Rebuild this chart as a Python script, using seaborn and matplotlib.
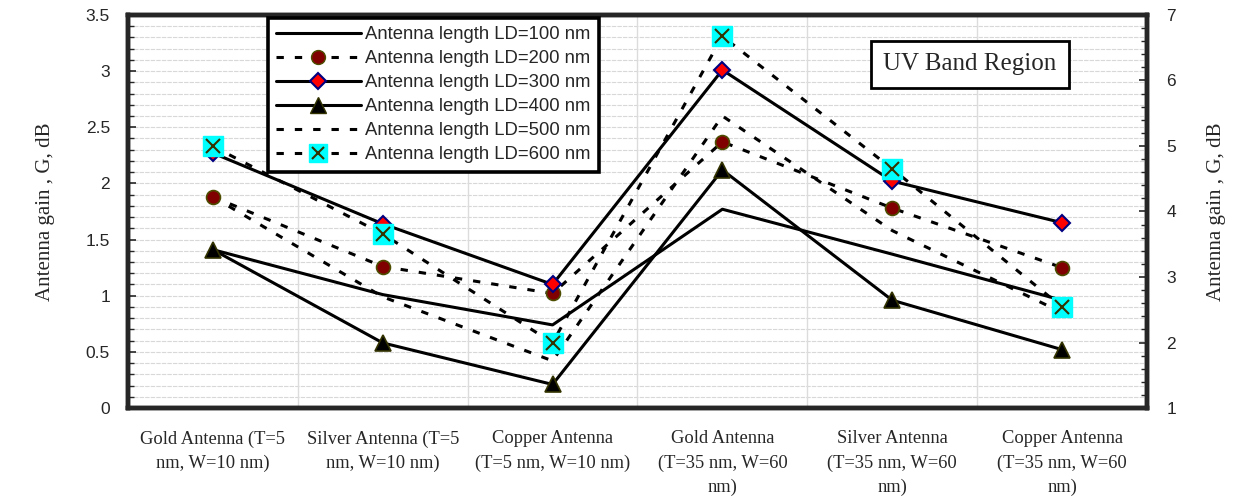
import numpy as np
import pandas as pd
import matplotlib
matplotlib.use("Agg")
import matplotlib.pyplot as plt
from matplotlib.ticker import MultipleLocator
from matplotlib.legend_handler import HandlerTuple
from matplotlib.lines import Line2D
import seaborn as sns

# ---- data -----------------------------------------------------------------
categories = [
    "Gold Antenna (T=5\nnm, W=10 nm)",
    "Silver Antenna (T=5\nnm, W=10 nm)",
    "Copper Antenna\n(T=5 nm, W=10 nm)",
    "Gold Antenna\n(T=35 nm, W=60\nnm)",
    "Silver Antenna\n(T=35 nm, W=60\nnm)",
    "Copper Antenna\n(T=35 nm, W=60\nnm)",
]
ld100 = [1.41, 1.01, 0.74, 1.77, 1.37, 0.96]
ld200 = [1.88, 1.26, 1.02, 2.37, 1.78, 1.25]
ld300 = [2.27, 1.64, 1.10, 3.01, 2.02, 1.65]
ld400 = [1.41, 0.58, 0.21, 2.12, 0.96, 0.52]
ld500 = [1.88, 0.99, 0.42, 2.60, 1.58, 0.85]
ld600 = [2.33, 1.55, 0.58, 3.31, 2.13, 0.90]
series_labels = [
    "Antenna length LD=100 nm",
    "Antenna length LD=200 nm",
    "Antenna length LD=300 nm",
    "Antenna length LD=400 nm",
    "Antenna length LD=500 nm",
    "Antenna length LD=600 nm",
]

# ---- style ----------------------------------------------------------------
sns.set_style("white")
plt.rcParams["font.family"] = ["Liberation Sans", "DejaVu Sans"]

fig = plt.figure(figsize=(12.39, 4.97), dpi=100)
ax = fig.add_axes([0.1033, 0.179, 0.8224, 0.791])

x = np.arange(len(categories))
LW = 2.2
DASH = (0, (2.4, 3.6))

sns.lineplot(x=x, y=ld100, ax=ax, color="black", lw=LW, zorder=3)
sns.lineplot(x=x, y=ld400, ax=ax, color="black", lw=LW, zorder=3,
             marker="^", markersize=12, markerfacecolor="black",
             markeredgecolor="#333300", markeredgewidth=1.2)
sns.lineplot(x=x, y=ld500, ax=ax, color="black", lw=LW, zorder=3)
sns.lineplot(x=x, y=ld200, ax=ax, color="black", lw=LW, zorder=4,
             marker="o", markersize=10, markerfacecolor="#800000",
             markeredgecolor="#4d4d00", markeredgewidth=1.2)
sns.lineplot(x=x, y=ld300, ax=ax, color="black", lw=LW, zorder=4,
             marker="D", markersize=8.5, markerfacecolor="#ff0000",
             markeredgecolor="#000080", markeredgewidth=1.5)
sns.lineplot(x=x, y=ld600, ax=ax, color="black", lw=LW, zorder=5)
ax.lines[2].set_linestyle(DASH)
ax.lines[3].set_linestyle(DASH)
ax.lines[5].set_linestyle(DASH)
# cyan square with a cross on top for the LD=600 series
ax.plot(x, ld600, ls="none", marker="s", markersize=15,
        markerfacecolor="#00ffff", markeredgecolor="#00ffff", zorder=6)
ax.plot(x, ld600, ls="none", marker="x", markersize=10,
        markeredgecolor="#333300", markeredgewidth=1.5, zorder=7)

# ---- axes -----------------------------------------------------------------
ax.set_xlim(-0.5, len(categories) - 0.5)
ax.set_ylim(0, 3.5)
ax.set_xticks(x)
ax.set_xticklabels(categories, family=["Liberation Serif"], fontsize=13.3,
                   linespacing=1.55)
ax.tick_params(axis="x", length=0, pad=16)
ax.yaxis.set_minor_locator(MultipleLocator(0.1))
ax.set_yticks([0, 0.5, 1, 1.5, 2, 2.5, 3, 3.5])
ax.set_yticklabels(["0", "0.5", "1", "1.5", "2", "2.5", "3", "3.5"], fontsize=12.5)
ax.tick_params(axis="y", which="major", direction="in", length=6, width=1.2, pad=13)
ax.tick_params(axis="y", which="minor", direction="in", length=4, width=1.0)

for v in np.arange(0.1, 3.5, 0.1):
    ax.axhline(v, color="#d8d8d8", lw=0.8, ls=(0, (4, 1)), zorder=0)
for v in np.arange(0.5, len(categories) - 0.5, 1):
    ax.axvline(v, color="#dcdcdc", lw=1.0, zorder=0)

for s in ax.spines.values():
    s.set_linewidth(3.2)
    s.set_color("black")

ax.set_ylabel("Antenna gain , G, dB", family=["Liberation Serif"], fontsize=15,
              labelpad=22)

ax2 = ax.twinx()
ax2.set_ylim(1, 7)
ax2.set_yticks(range(1, 8))
ax2.set_yticklabels([str(v) for v in range(1, 8)], fontsize=12.5)
ax2.yaxis.set_minor_locator(MultipleLocator(0.2))
ax2.tick_params(axis="y", which="major", direction="in", length=6, width=1.2, pad=14)
ax2.tick_params(axis="y", which="minor", direction="in", length=4, width=1.0)
ax2.set_ylabel("Antenna gain , G, dB", family=["Liberation Serif"], fontsize=15,
               labelpad=22)
for s in ax2.spines.values():
    s.set_linewidth(3.2)
ax2.grid(False)

# ---- legend ---------------------------------------------------------------
h100 = Line2D([], [], color="black", lw=LW)
h200 = Line2D([], [], color="black", lw=LW, ls=DASH, marker="o", markersize=10,
              markerfacecolor="#800000", markeredgecolor="#4d4d00")
h300 = Line2D([], [], color="black", lw=LW, marker="D", markersize=8.5,
              markerfacecolor="#ff0000", markeredgecolor="#000080", markeredgewidth=1.5)
h400 = Line2D([], [], color="black", lw=LW, marker="^", markersize=12,
              markerfacecolor="black", markeredgecolor="#333300")
h500 = Line2D([], [], color="black", lw=LW, ls=DASH)
h600a = Line2D([], [], color="black", lw=LW, ls=DASH, marker="s", markersize=13,
               markerfacecolor="#00ffff", markeredgecolor="#00ffff")
h600b = Line2D([], [], ls="none", marker="x", markersize=9,
               markeredgecolor="#333300", markeredgewidth=1.5)
leg = ax2.legend([h100, h200, h300, h400, h500, (h600a, h600b)], series_labels,
                 handler_map={tuple: HandlerTuple(ndivide=1, pad=0)},
                 loc="upper left", bbox_to_anchor=(0.137, 0.992),
                 fontsize=13.3, handlelength=4.6, handletextpad=0.25,
                 labelspacing=0.38, borderpad=0.45, borderaxespad=0,
                 fancybox=False, framealpha=1, edgecolor="black")
leg.get_frame().set_linewidth(2.6)
leg.set_zorder(10)

ax2.text(0.826, 0.875, "UV Band Region", transform=ax.transAxes,
         family=["Liberation Serif"], fontsize=18, ha="center", va="center",
         bbox=dict(boxstyle="square,pad=0.5", facecolor="white",
                   edgecolor="black", linewidth=2.0), zorder=10)

fig.savefig("out.png", dpi=100)
